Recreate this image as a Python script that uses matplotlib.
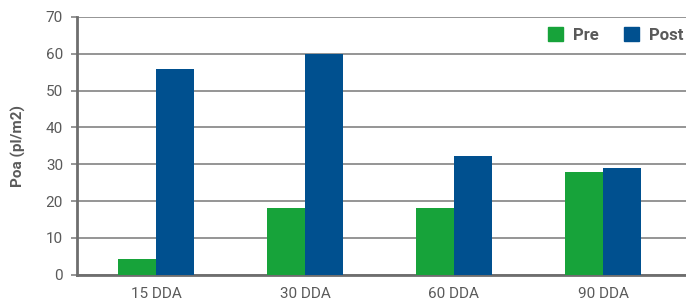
import matplotlib
matplotlib.use("Agg")
import matplotlib.pyplot as plt
from matplotlib.patches import Patch
import numpy as np

categories = ["15 DDA", "30 DDA", "60 DDA", "90 DDA"]
pre = [4.3, 18.0, 18.0, 28.0]
post = [56.0, 60.0, 32.3, 29.1]
yticks = [0, 10, 20, 30, 40, 50, 60, 70]

plt.rcParams['font.family'] = ['Roboto', 'DejaVu Sans']

green = "#17a33a"
blue = "#00508f"
txt = "#5a5a5a"

fig = plt.figure(figsize=(6.86, 3.02), dpi=100)
ax = fig.add_axes([77/686, 1-274.7/302, (686-77)/686, (274.7-17)/302])

x = np.arange(len(categories))
w = 0.255
ax.bar(x - w/2, pre, width=w, color=green, zorder=3)
ax.bar(x + w/2, post, width=w, color=blue, zorder=3)

ax.set_xlim(-0.53, 3.557)
ax.set_ylim(0, 70)
ax.set_yticks(yticks)
ax.set_xticks(x)
ax.set_xticklabels(categories)
ax.grid(axis='y', color="#8c8c8c", linewidth=1.3, zorder=0)
ax.tick_params(axis='y', length=4.3, width=1.3, color="#8c8c8c", labelsize=11, labelcolor=txt, pad=5.8)
ax.tick_params(axis='x', length=0, labelsize=11, labelcolor=txt, pad=8.5)
for s in ['top', 'right']:
    ax.spines[s].set_visible(False)
for s in ['left', 'bottom']:
    ax.spines[s].set_color("#6e6e6e")
    ax.spines[s].set_linewidth(2)

ax.set_ylabel("Poa (pl/m2)", fontsize=11, fontweight='bold', color=txt, labelpad=14)

handles = [Patch(color=green, label="Pre"), Patch(color=blue, label="Post")]
leg = ax.legend(handles=handles, loc='upper right', bbox_to_anchor=(1.02, 1.02), ncol=2,
                frameon=False, prop={'weight': 'bold', 'size': 12},
                handlelength=0.9, handleheight=0.9, columnspacing=1.5, handletextpad=0.6)
for t in leg.get_texts():
    t.set_color(txt)

fig.savefig("out.png", dpi=100)
